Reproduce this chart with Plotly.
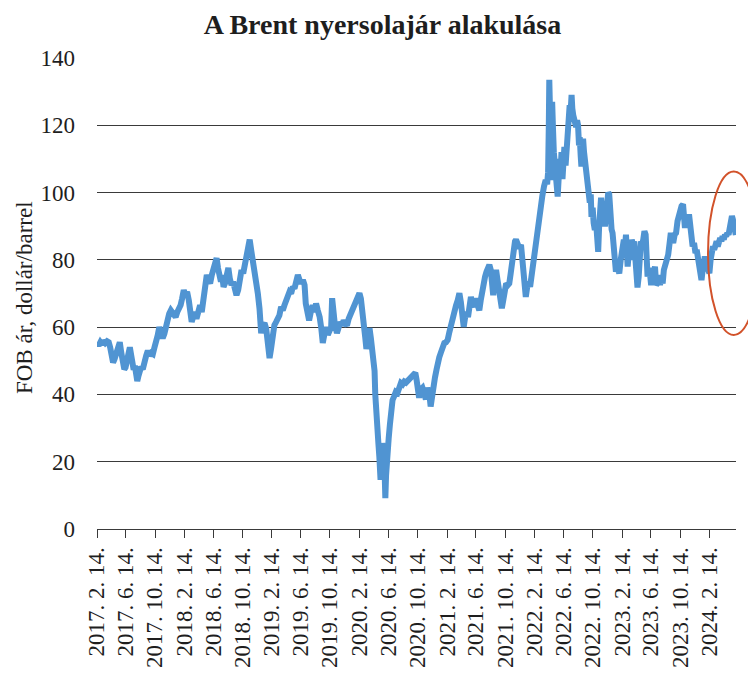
import plotly.graph_objects as go

# ---- data (dates as placed on the chart's date axis, Brent FOB price USD/barrel) ----
dates_2017 = ["2017-02-14","2017-02-21","2017-02-28","2017-03-07","2017-03-14","2017-03-21","2017-03-28",
              "2017-04-04","2017-04-10","2017-04-16","2017-04-22","2017-04-28","2017-05-05","2017-05-12",
              "2017-05-20","2017-05-26","2017-06-02","2017-06-08","2017-06-13","2017-06-19","2017-06-25",
              "2017-07-01","2017-07-07","2017-07-12","2017-07-17","2017-07-22","2017-07-27","2017-08-01",
              "2017-08-06","2017-08-12","2017-08-17","2017-08-24","2017-08-31","2017-09-07","2017-09-14",
              "2017-09-21","2017-09-28","2017-10-05","2017-10-12","2017-10-19","2017-10-25","2017-11-01",
              "2017-11-08","2017-11-15","2017-11-22","2017-11-29","2017-12-05","2017-12-12","2017-12-19",
              "2017-12-26"]
price_2017 = [55.5,54.5,55.5,54.8,56.0,55.3,55.8,
              55.5,54.0,51.5,49.5,50.5,52.5,54.0,
              55.5,52.5,50.0,47.5,48.0,50.5,52.0,
              54.0,51.5,49.0,47.3,48.5,46.0,44.0,
              45.5,47.5,48.2,47.5,50.2,51.5,53.0,
              51.5,52.3,52.0,54.0,55.3,57.5,60.0,
              58.0,56.7,58.0,60.5,63.5,64.0,65.0,
              64.0]

dates_2018 = ["2018-01-02","2018-01-08","2018-01-15","2018-01-22","2018-01-29","2018-02-04","2018-02-11",
              "2018-02-18","2018-02-25","2018-03-04","2018-03-10","2018-03-16","2018-03-22","2018-03-29",
              "2018-04-05","2018-04-13","2018-04-20","2018-04-27","2018-05-04","2018-05-11","2018-05-18",
              "2018-05-25","2018-06-01","2018-06-08","2018-06-15","2018-06-22","2018-06-28","2018-07-04",
              "2018-07-10","2018-07-16","2018-07-21","2018-07-27","2018-08-02","2018-08-09","2018-08-16",
              "2018-08-22","2018-08-29","2018-09-05","2018-09-12","2018-09-19","2018-09-26","2018-10-03",
              "2018-10-10","2018-10-17","2018-10-24","2018-10-31","2018-11-06","2018-11-13","2018-11-19",
              "2018-11-26","2018-12-03","2018-12-10","2018-12-17","2018-12-24","2018-12-31"]
price_2018 = [63.5,63.0,64.5,65.5,66.6,68.5,71.0,
              69.5,70.5,68.0,64.5,61.6,63.0,64.5,
              62.5,65.5,66.5,64.5,68.5,73.0,75.5,
              74.0,73.0,75.5,77.0,78.5,80.5,77.5,
              75.0,73.5,75.5,72.0,73.0,75.5,77.6,
              74.5,72.5,73.5,71.5,69.5,71.0,74.5,
              77.0,76.0,79.0,81.5,83.5,86.0,83.0,
              80.0,77.5,74.0,70.0,65.5,58.2]

dates_2019 = ["2019-01-07","2019-01-14","2019-01-21","2019-01-28","2019-02-04","2019-02-10","2019-02-17",
              "2019-02-24","2019-03-03","2019-03-10","2019-03-17","2019-03-24","2019-03-31","2019-04-07",
              "2019-04-14","2019-04-21","2019-04-28","2019-05-05","2019-05-12","2019-05-19","2019-05-26",
              "2019-06-02","2019-06-09","2019-06-16","2019-06-23","2019-06-30","2019-07-05","2019-07-12",
              "2019-07-19","2019-07-26","2019-08-03","2019-08-10","2019-08-17","2019-08-24","2019-09-01",
              "2019-09-08","2019-09-14","2019-09-21","2019-09-28","2019-10-05","2019-10-12","2019-10-19",
              "2019-10-23","2019-10-27","2019-11-03","2019-11-12","2019-11-19","2019-11-26","2019-12-03",
              "2019-12-10","2019-12-17","2019-12-24","2019-12-31"]
price_2019 = [60.5,61.2,59.5,55.0,50.8,53.5,58.0,
              60.6,61.5,62.5,63.5,66.0,65.0,66.5,
              67.5,69.0,70.5,70.0,72.0,71.5,73.5,
              75.5,74.0,73.0,74.0,72.5,67.0,62.7,
              62.0,64.5,66.5,64.5,67.0,65.0,63.0,
              59.5,55.3,58.0,60.0,57.7,59.5,60.0,
              68.6,64.0,61.0,58.2,60.0,61.5,60.5,
              62.0,61.0,60.5,62.5]

dates_2020 = ["2020-01-06","2020-01-13","2020-01-20","2020-01-27","2020-02-03","2020-02-09","2020-02-14",
              "2020-02-20","2020-02-27","2020-03-04","2020-03-09","2020-03-14","2020-03-21","2020-03-27",
              "2020-04-02","2020-04-07","2020-04-12","2020-04-17","2020-04-20","2020-04-24","2020-04-28",
              "2020-05-03","2020-05-07","2020-05-12","2020-05-15","2020-05-19","2020-05-23","2020-05-27",
              "2020-05-30","2020-06-01","2020-06-04","2020-06-07","2020-06-10","2020-06-15","2020-06-20",
              "2020-06-24","2020-07-01","2020-07-08","2020-07-15","2020-07-22","2020-07-29","2020-08-05",
              "2020-08-12","2020-08-19","2020-08-26","2020-09-02","2020-09-09","2020-09-16","2020-09-23",
              "2020-09-29","2020-10-04","2020-10-09","2020-10-14","2020-10-20","2020-10-27","2020-11-03",
              "2020-11-10","2020-11-17","2020-11-23","2020-11-30","2020-12-04","2020-12-07","2020-12-12",
              "2020-12-18","2020-12-25"]
price_2020 = [63.6,64.5,66.0,67.0,68.0,69.0,70.1,
              68.5,65.0,62.0,57.0,53.5,56.0,59.7,
              56.5,53.0,52.0,47.0,40.0,33.0,27.0,
              25.5,21.5,14.6,20.0,25.5,24.0,22.5,
              17.0,9.2,16.0,22.0,24.5,27.0,31.0,
              34.5,38.3,39.5,40.8,40.5,41.5,43.4,
              43.0,43.8,43.5,44.0,44.3,44.5,45.0,
              45.5,46.4,44.5,40.8,39.0,41.5,42.0,
              40.5,38.5,42.0,40.5,38.5,36.4,39.5,
              42.5,45.0]

dates_2021 = ["2021-01-01","2021-01-05","2021-01-12","2021-01-19","2021-01-26","2021-02-02","2021-02-09",
              "2021-02-16","2021-02-23","2021-03-02","2021-03-09","2021-03-16","2021-03-23","2021-03-30",
              "2021-04-06","2021-04-12","2021-04-18","2021-04-24","2021-04-30","2021-05-06","2021-05-12",
              "2021-05-18","2021-05-24","2021-05-30","2021-06-05","2021-06-12","2021-06-19","2021-06-28",
              "2021-07-04","2021-07-10","2021-07-16","2021-07-22","2021-07-28","2021-08-03","2021-08-09",
              "2021-08-15","2021-08-20","2021-08-25","2021-08-31","2021-09-06","2021-09-12","2021-09-18",
              "2021-09-24","2021-09-30","2021-10-06","2021-10-12","2021-10-18","2021-10-25","2021-10-31",
              "2021-11-06","2021-11-12","2021-11-18","2021-11-24","2021-11-28","2021-12-05","2021-12-12",
              "2021-12-19","2021-12-26","2021-12-31"]
price_2021 = [47.5,50.0,51.0,52.5,54.0,55.3,55.5,
              56.2,58.5,61.0,62.5,65.5,66.5,68.0,
              70.1,67.5,64.0,60.1,63.0,64.5,63.0,
              66.0,69.0,67.0,66.0,68.5,67.0,65.0,
              68.0,71.0,73.0,75.0,76.5,77.5,78.5,
              77.0,73.0,69.5,74.0,77.0,74.0,71.0,
              67.5,65.6,68.0,71.0,73.0,72.5,73.0,
              76.0,80.0,83.9,85.5,86.0,85.0,83.5,
              84.5,80.0,75.0]

dates_2022 = ["2022-01-04","2022-01-08","2022-01-14","2022-01-20","2022-01-26","2022-01-31","2022-02-05",
              "2022-02-12","2022-02-19","2022-02-26","2022-03-05","2022-03-11","2022-03-18","2022-03-25",
              "2022-04-01","2022-04-07","2022-04-11","2022-04-14","2022-04-16","2022-04-18","2022-04-20",
              "2022-04-22","2022-04-25","2022-04-28","2022-05-01","2022-05-05","2022-05-09","2022-05-13",
              "2022-05-17","2022-05-21","2022-05-25","2022-05-29","2022-06-02","2022-06-06","2022-06-10",
              "2022-06-14","2022-06-18","2022-06-23","2022-06-28","2022-07-02","2022-07-06","2022-07-10",
              "2022-07-14","2022-07-18","2022-07-21","2022-07-25","2022-07-29","2022-08-02","2022-08-06",
              "2022-08-10","2022-08-14","2022-08-18","2022-08-21","2022-08-25","2022-08-28","2022-09-01",
              "2022-09-04","2022-09-08","2022-09-13","2022-09-18","2022-09-22","2022-09-26","2022-10-02",
              "2022-10-06","2022-10-09","2022-10-14","2022-10-18","2022-10-23","2022-10-28","2022-11-02",
              "2022-11-06","2022-11-10","2022-11-14","2022-11-18","2022-11-23","2022-11-28","2022-12-04",
              "2022-12-09","2022-12-14","2022-12-18","2022-12-22","2022-12-27"]
price_2022 = [72.0,69.0,72.0,73.5,72.0,75.0,78.0,
              80.5,84.0,89.9,92.5,96.8,99.0,101.8,
              103.7,102.5,106.0,120.0,133.5,127.5,110.0,
              103.7,114.0,127.0,120.0,112.0,108.0,104.0,
              101.0,98.8,104.0,110.0,106.0,112.0,104.0,
              110.0,113.6,108.0,115.0,118.0,122.0,126.0,
              124.0,129.0,125.0,123.0,121.5,122.0,119.5,
              121.5,120.0,114.0,116.5,111.0,107.7,112.0,
              116.0,112.0,108.0,105.8,103.0,100.0,97.0,
              99.5,92.8,95.5,91.0,88.9,91.5,86.0,
              82.4,90.0,96.5,98.5,94.0,97.0,89.9,
              94.0,97.5,100.0,99.5,92.0]

dates_2023 = ["2023-01-01","2023-01-05","2023-01-09","2023-01-14","2023-01-19","2023-01-24","2023-01-29",
              "2023-02-02","2023-02-08","2023-02-13","2023-02-16","2023-02-21","2023-02-26","2023-03-02",
              "2023-03-06","2023-03-09","2023-03-14","2023-03-20","2023-03-26","2023-03-31","2023-04-05",
              "2023-04-10","2023-04-15","2023-04-19","2023-04-24","2023-04-29","2023-05-03","2023-05-08",
              "2023-05-13","2023-05-18","2023-05-23","2023-05-27","2023-05-31","2023-06-05","2023-06-10",
              "2023-06-15","2023-06-20","2023-06-26","2023-07-01","2023-07-06","2023-07-11","2023-07-17",
              "2023-07-22","2023-07-27","2023-08-02","2023-08-07","2023-08-13","2023-08-19","2023-08-25",
              "2023-08-31","2023-09-05","2023-09-10","2023-09-15","2023-09-21","2023-09-27","2023-10-03",
              "2023-10-09","2023-10-15","2023-10-20","2023-10-26","2023-10-30","2023-11-03","2023-11-08",
              "2023-11-14","2023-11-20","2023-11-25","2023-11-30","2023-12-05","2023-12-11","2023-12-17",
              "2023-12-22","2023-12-27"]
price_2023 = [89.0,88.0,85.0,80.0,76.5,78.0,77.0,
              76.0,80.0,83.0,84.0,86.0,84.0,87.5,
              82.0,78.0,82.5,80.0,86.0,84.5,85.5,
              80.0,75.0,71.8,75.0,80.0,85.5,84.5,
              86.0,88.5,87.5,82.0,75.0,77.5,76.0,
              72.5,77.5,76.0,78.0,72.5,73.0,75.0,
              72.5,75.5,73.0,77.0,78.5,80.5,81.5,
              85.0,88.0,86.5,85.0,87.5,88.0,91.5,
              93.5,95.0,96.0,96.5,93.0,89.5,92.0,
              91.0,93.5,90.5,86.0,84.0,85.0,82.0,
              83.0,80.5]

dates_2024 = ["2024-01-01","2024-01-06","2024-01-11","2024-01-16","2024-01-21","2024-01-25","2024-01-30",
              "2024-02-04","2024-02-08","2024-02-13","2024-02-18","2024-02-23","2024-02-28","2024-03-04",
              "2024-03-09","2024-03-14","2024-03-19","2024-03-24","2024-03-29","2024-04-03","2024-04-08",
              "2024-04-13","2024-04-18","2024-04-23","2024-04-28","2024-05-03","2024-05-08","2024-05-12",
              "2024-05-17","2024-05-21","2024-05-26","2024-06-02"]
price_2024 = [78.0,76.0,74.0,77.0,79.5,81.0,79.0,
              80.0,77.0,76.0,80.0,82.5,84.0,83.0,
              84.5,85.5,84.0,86.0,86.5,85.5,87.0,
              86.0,87.5,87.0,88.0,87.5,90.0,92.5,
              93.0,92.0,89.0,87.4]

tick_dates = ["2017-02-14","2017-06-14","2017-10-14","2018-02-14","2018-06-14","2018-10-14",
              "2019-02-14","2019-06-14","2019-10-14","2020-02-14","2020-06-14","2020-10-14",
              "2021-02-14","2021-06-14","2021-10-14","2022-02-14","2022-06-14","2022-10-14",
              "2023-02-14","2023-06-14","2023-10-14","2024-02-14"]
tick_labels = ["2017. 2. 14.","2017. 6. 14.","2017. 10. 14.","2018. 2. 14.","2018. 6. 14.","2018. 10. 14.",
               "2019. 2. 14.","2019. 6. 14.","2019. 10. 14.","2020. 2. 14.","2020. 6. 14.","2020. 10. 14.",
               "2021. 2. 14.","2021. 6. 14.","2021. 10. 14.","2022. 2. 14.","2022. 6. 14.","2022. 10. 14.",
               "2023. 2. 14.","2023. 6. 14.","2023. 10. 14.","2024. 2. 14."]

title_text = "A Brent nyersolajár alakulása"
y_title = "FOB ár, dollár/barrel"

dates = dates_2017 + dates_2018 + dates_2019 + dates_2020 + dates_2021 + dates_2022 + dates_2023 + dates_2024
prices = price_2017 + price_2018 + price_2019 + price_2020 + price_2021 + price_2022 + price_2023 + price_2024

FONT = "Liberation Serif, Times New Roman, serif"
TXT = "#1e1e1e"
GRID = "#3a3a3a"

# the page adds an 8px body margin; OFF converts page pixels to figure pixels
OFF = 8
W, H = 756, 673
plot_left, plot_right, plot_top, plot_bottom = 97 - OFF, 736.5 - OFF, 58 - OFF, 529 - OFF
L, R, T, B = plot_left, W - plot_right, plot_top, H - plot_bottom
pw = plot_right - plot_left
ph = plot_bottom - plot_top


def px_x(page_x):
    return (page_x - OFF - plot_left) / pw


def px_y(page_y):
    return (plot_bottom - (page_y - OFF)) / ph


fig = go.Figure()
fig.add_trace(go.Scatter(
    x=dates, y=prices, mode="lines",
    line=dict(color="#5094D2", width=6, shape="linear"),
    hoverinfo="x+y", showlegend=False,
))

fig.update_layout(
    width=W, height=H,
    margin=dict(l=L, r=R, t=T, b=B, autoexpand=False),
    paper_bgcolor="white", plot_bgcolor="white",
    font=dict(family=FONT, color=TXT, size=23),
    title=dict(text="<b>" + title_text + "</b>", x=(382.5 - OFF) / W, xanchor="center",
               y=1 - (24 - OFF) / H, yanchor="middle", xref="container", yref="container",
               font=dict(family=FONT, size=28, color=TXT)),
    showlegend=False,
)

fig.update_xaxes(
    type="date", range=["2017-02-14", "2024-06-03"],
    tickmode="array", tickvals=tick_dates, ticktext=tick_labels,
    tickangle=-90, tickfont=dict(family=FONT, size=23, color=TXT),
    showgrid=False, zeroline=False,
    showline=True, linecolor=GRID, linewidth=1,
    ticks="outside", ticklen=8, tickcolor=GRID, tickwidth=1,
    fixedrange=True,
)
fig.update_yaxes(
    range=[0, 140], tickmode="linear", tick0=0, dtick=20,
    tickfont=dict(family=FONT, size=23, color=TXT),
    showgrid=True, gridcolor=GRID, gridwidth=1,
    zeroline=False, showline=False, ticks="",
    ticklabelstandoff=21,
    fixedrange=True,
)

# y-axis title
fig.add_annotation(
    text=y_title, textangle=-90, showarrow=False,
    xref="paper", yref="paper",
    x=px_x(24), y=px_y(298),
    xanchor="center", yanchor="middle",
    font=dict(family=FONT, size=23, color=TXT),
)

# red highlight ellipse around the latest values
fig.add_shape(
    type="circle", xref="paper", yref="paper",
    x0=px_x(708.5), x1=px_x(760),
    y0=px_y(335), y1=px_y(171.5),
    line=dict(color="#D2522A", width=2), fillcolor="rgba(0,0,0,0)",
    layer="above",
)

fig.write_html("out.html")
